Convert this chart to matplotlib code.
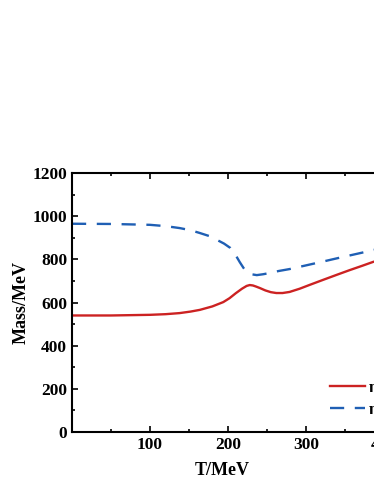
import matplotlib
matplotlib.use("Agg")
import matplotlib.pyplot as plt
from matplotlib.ticker import MultipleLocator

# --- data (T in MeV, mass in MeV) ---
T_eta = [0, 50, 100, 120, 138, 152, 164, 180, 194, 202, 210, 218, 224, 228, 232, 236, 241, 248,
         255, 262, 270, 279, 292, 305, 322, 340, 356, 372, 386, 420, 460, 500]
M_eta = [540, 540, 543, 546, 551, 558, 566, 582, 602, 620, 643, 664, 677, 681, 679, 674, 667, 656,
         648, 644, 644, 649, 664, 682, 705, 729, 750, 770, 788, 823, 860, 895]

T_etap = [0, 50, 100, 120, 138, 152, 164, 176, 186, 195, 203, 209, 215, 220, 224, 230, 237, 245,
          254, 265, 279, 300, 322, 340, 356, 372, 386, 420, 460, 500]
M_etap = [965, 964, 960, 954, 945, 935, 922, 908, 890, 873, 853, 825, 788, 760, 741, 731, 727, 731,
          737, 746, 755, 772, 790, 805, 818, 831, 843, 866, 890, 912]

labels = ["\u03b7", "\u03b7'"]

plt.rcParams["font.family"] = ["Liberation Serif", "DejaVu Serif"]
plt.rcParams["font.weight"] = "bold"

fig = plt.figure(figsize=(3.74, 4.84), dpi=100)
ax = fig.add_axes([0.1925, 0.1074, 1.235 - 0.1925, 0.5351])

ax.plot(T_eta, M_eta, color="#cc2222", lw=1.7, label=labels[0])
ax.plot(T_etap, M_etap, color="#1f5fb4", lw=1.7, ls=(0, (6, 4.5)), label=labels[1])

ax.set_xlim(0, 500)
ax.set_ylim(0, 1200)
ax.set_xticks([100, 200, 300, 400, 500])
ax.xaxis.set_minor_locator(MultipleLocator(50))
ax.yaxis.set_major_locator(MultipleLocator(200))
ax.yaxis.set_minor_locator(MultipleLocator(100))

ax.tick_params(which="both", direction="in", top=True, right=True, width=1.2)
ax.tick_params(which="major", length=4, labelsize=12.5)
ax.tick_params(which="minor", length=2.5)
for lbl in ax.get_xticklabels() + ax.get_yticklabels():
    lbl.set_fontweight("bold")
for sp in ax.spines.values():
    sp.set_linewidth(1.5)

ax.set_xlabel("T/MeV", fontsize=13, fontweight="bold")
ax.set_ylabel("Mass/MeV", fontsize=13, fontweight="bold")
# label positions of the (cropped) reference, in axes coordinates
ax.xaxis.set_label_coords((222 - 72) / (462 - 72), -0.115)
ax.yaxis.set_label_coords(-42 / (462 - 72), 0.5)

ax.legend(loc="lower left", bbox_to_anchor=(330 / 374, 66 / 484),
          bbox_transform=fig.transFigure, frameon=False, fontsize=12,
          handlelength=2.1, handletextpad=0.25, borderpad=0, borderaxespad=0,
          labelspacing=0.35)

fig.savefig("out.png", dpi=100)
